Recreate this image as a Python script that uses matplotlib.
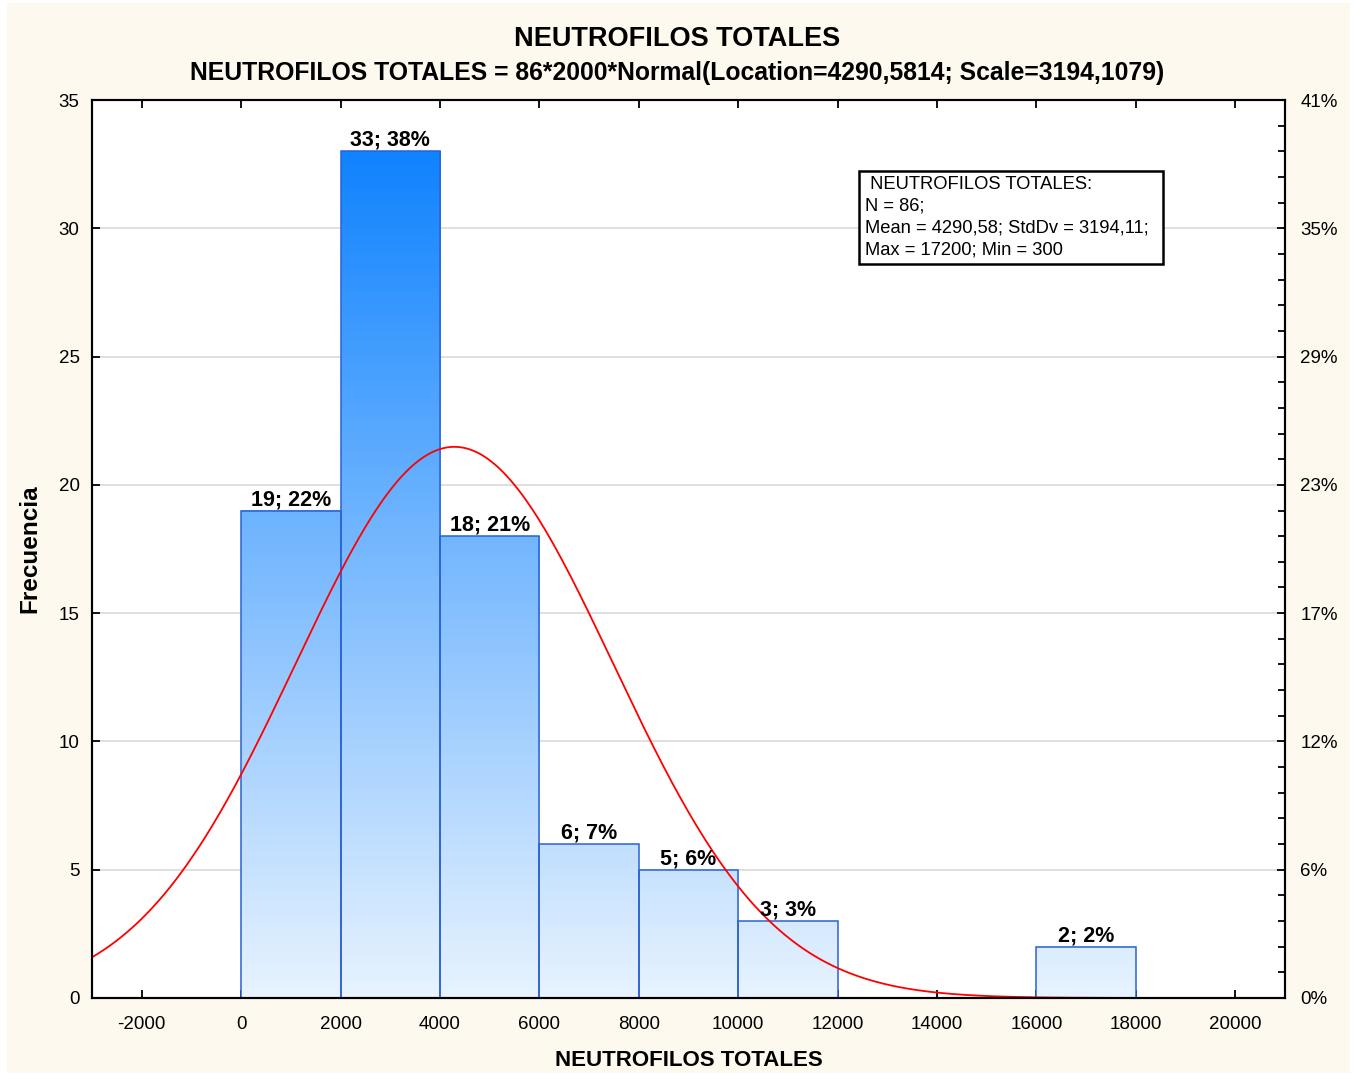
import numpy as np
import matplotlib
matplotlib.use("Agg")
import matplotlib.pyplot as plt
from matplotlib.colors import LinearSegmentedColormap
from matplotlib.patches import Rectangle
from matplotlib.ticker import MultipleLocator

plt.rcParams['font.family'] = ['Liberation Sans', 'DejaVu Sans']

# ---- data ----
bin_edges = [0, 2000, 4000, 6000, 8000, 10000, 12000, 14000, 16000, 18000]
counts = [19, 33, 18, 6, 5, 3, 0, 0, 2]
n_total = 86
bin_width = 2000
fit_mean = 4290.5814
fit_scale = 3194.1079
x_ticks = [-2000, 0, 2000, 4000, 6000, 8000, 10000, 12000, 14000, 16000, 18000, 20000]
y_ticks = [0, 5, 10, 15, 20, 25, 30, 35]
title = "NEUTROFILOS TOTALES"
subtitle = "NEUTROFILOS TOTALES = 86*2000*Normal(Location=4290,5814; Scale=3194,1079)"
stats_text = (" NEUTROFILOS TOTALES:\nN = 86;\nMean = 4290,58; StdDv = 3194,11;\n"
              "Max = 17200; Min = 300")
x_label = "NEUTROFILOS TOTALES"
y_label = "Frecuencia"

W, H = 1354, 1076
fig = plt.figure(figsize=(W / 100, H / 100), dpi=100)
fig.patch.set_facecolor("white")
fig.patches.append(Rectangle((7 / W, 3 / H), (1350 - 7) / W, (1073 - 3) / H,
                             transform=fig.transFigure, facecolor="#FEF9EF",
                             edgecolor="none", zorder=-10))

ax = fig.add_axes([92 / W, 1 - 998 / H, (1285 - 92) / W, (998 - 100) / H])
ax.set_facecolor("white")
xmin, xmax = -3000, 21000

cmap = LinearSegmentedColormap.from_list("g", ["#E8F3FE", "#1083FF"])
vmax = max(counts)
for i, c in enumerate(counts):
    if c <= 0:
        continue
    x0, x1 = bin_edges[i], bin_edges[i + 1]
    grad = np.linspace(0, c, 256)[:, None]
    ax.imshow(grad, cmap=cmap, vmin=0, vmax=vmax, extent=(x0, x1, 0, c),
              origin="lower", aspect="auto", zorder=2, interpolation="bilinear")
    ax.add_patch(Rectangle((x0, 0), x1 - x0, c, facecolor="none",
                           edgecolor="#2A62D4", linewidth=1.1, zorder=3))
    pct = int(round(c / n_total * 100))
    ax.text((x0 + x1) / 2, c + 0.02, f"{c}; {pct}%", ha="center", va="bottom",
            fontsize=15.5, fontweight="bold", zorder=5)
ax.set_xlim(xmin, xmax)
ax.set_ylim(0, 35)

# fitted normal curve
xs = np.linspace(xmin, xmax, 600)
ys = n_total * bin_width * np.exp(-0.5 * ((xs - fit_mean) / fit_scale) ** 2) / (fit_scale * np.sqrt(2 * np.pi))
ax.plot(xs, ys, color="#FF0000", linewidth=1.3, zorder=4)

# grid
for yv in y_ticks[1:-1]:
    ax.axhline(yv, color="#D9D9D9", linewidth=1.2, zorder=1)

ax.set_xticks(x_ticks)
ax.set_xticklabels([str(v) for v in x_ticks])
ax.set_yticks(y_ticks)
ax.tick_params(axis="x", direction="in", length=6, width=1.3, top=True,
               labelsize=13.5, pad=13, color="black")
ax.tick_params(axis="y", direction="in", length=6, width=1.3, labelsize=13.5, pad=9)
for s in ax.spines.values():
    s.set_linewidth(1.5)
    s.set_zorder(6)

ax2 = ax.twinx()
ax2.set_ylim(0, 35)
ax2.set_yticks(y_ticks)
ax2.set_yticklabels([f"{int(round(v / n_total * 100))}%" for v in y_ticks])
ax2.yaxis.set_minor_locator(MultipleLocator(1))
ax2.tick_params(axis="y", which="major", direction="in", length=6, width=1.3,
                labelsize=13.5, pad=11)
ax2.tick_params(axis="y", which="minor", direction="in", length=5, width=1.3)
for s in ax2.spines.values():
    s.set_linewidth(1.5)

ax.set_xlabel(x_label, fontsize=16, fontweight="bold")
ax.xaxis.set_label_coords(0.5, -(1060 - 998) / (998 - 100), transform=ax.transAxes)
ax.xaxis.label.set_va("center")
ax.set_ylabel(y_label, fontsize=17.5, fontweight="bold")
ax.yaxis.set_label_coords(-(92 - 30) / (1285 - 92), 0.5, transform=ax.transAxes)
ax.yaxis.label.set_va("center")

fig.text(0.5, 1 - 39 / H, title, ha="center", va="center", fontsize=19.5,
         fontweight="bold")
fig.text(0.5, 1 - 73 / H, subtitle, ha="center", va="center", fontsize=17.8,
         fontweight="bold")

ax2.add_patch(Rectangle((859 / W, 1 - 264 / H), (1163 - 859) / W, (264 - 171) / H,
                        transform=fig.transFigure, facecolor="white",
                        edgecolor="black", linewidth=1.8, zorder=7, clip_on=False))
ax2.text(865 / W, 1 - 176 / H, stats_text, transform=fig.transFigure,
         ha="left", va="top", fontsize=13.2, linespacing=1.38, zorder=8)

fig.savefig("out.png", dpi=100, facecolor=fig.get_facecolor())
